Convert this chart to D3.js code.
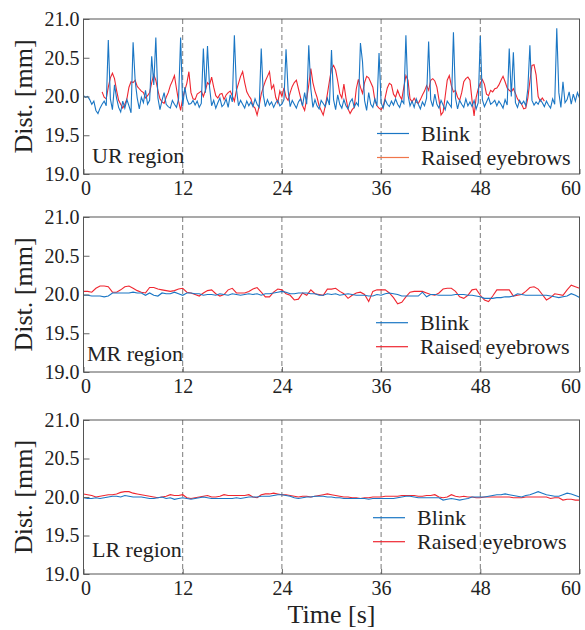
<!DOCTYPE html>
<html>
<head>
<meta charset="utf-8">
<script src="https://cdn.jsdelivr.net/npm/d3@7"></script>
<style>
  body { margin: 0; background: #fff; }
  text { font-family: "Liberation Serif", "DejaVu Serif", serif; fill: #222; }
</style>
</head>
<body>
<svg id="chart" width="585" height="630"></svg>
<script>
// tick labels + names
let timeTicks = [0, 12, 24, 36, 48, 60]
let distTicks = [19.0, 19.5, 20.0, 20.5, 21.0]
let gridTimes = [12, 24, 36, 48]
let seriesNames = ["Blink", "Raised eyebrows"]
let regionNames = ["UR region", "MR region", "LR region"]

// UR region, sampled every 0.25 s
let urBlink = [
  20.01, 19.99, 20.00, 19.96, 19.90, 19.94, 19.82, 19.78, 19.85, 19.90, 19.94, 19.88,
  20.73, 19.97, 19.83, 20.15, 19.98, 19.86, 19.80, 19.94, 19.85, 19.96, 19.88, 19.79,
  20.70, 20.20, 19.98, 19.84, 19.99, 19.92, 20.08, 19.90, 19.95, 20.52, 20.15, 20.76,
  19.98, 19.83, 19.95, 20.05, 19.90, 19.87, 19.85, 19.95, 19.90, 19.86, 19.97, 20.76,
  19.87, 20.12, 19.97, 19.90, 19.91, 19.95, 19.89, 19.94, 19.86, 19.91, 20.62, 20.05,
  20.65, 20.12, 19.88, 19.95, 19.85, 19.92, 19.98, 19.87, 19.90, 19.97, 19.86, 20.02,
  19.93, 20.79, 20.10, 19.88, 19.95, 19.90, 19.85, 19.94, 19.88, 19.93, 19.87, 19.97,
  19.90, 19.86, 20.62, 20.02, 19.87, 19.96, 19.89, 19.93, 19.86, 19.92, 19.95, 19.88,
  19.90, 19.96, 20.61, 20.08, 19.87, 19.95, 19.90, 19.85, 19.93, 19.97, 19.88, 20.05,
  19.90, 20.66, 20.10, 19.86, 19.96, 19.88, 19.84, 19.95, 19.91, 19.87, 19.98, 19.89,
  20.60, 19.96, 19.83, 20.02, 19.90, 19.85, 19.96, 19.88, 19.84, 19.93, 19.97, 19.86,
  19.92, 19.88, 20.69, 20.45, 19.95, 19.82, 20.05, 19.90, 19.86, 19.97, 19.88, 20.56,
  19.92, 19.85, 19.96, 19.90, 19.87, 19.94, 19.89, 19.97, 19.90, 19.86, 19.95, 19.91,
  20.79, 20.02, 19.88, 19.94, 19.86, 19.97, 19.90, 19.84, 19.93, 19.88, 19.98, 20.71,
  19.96, 19.87, 20.03, 19.90, 19.85, 19.95, 19.89, 19.83, 19.94, 19.90, 19.86, 20.83,
  19.98, 19.84, 19.95, 19.90, 19.86, 19.97, 19.88, 19.93, 19.87, 19.95, 19.84, 19.92,
  20.78, 19.96, 19.87, 19.93, 19.99, 19.90, 19.92, 19.95, 19.88, 19.94, 19.90, 19.85,
  19.96, 19.89, 20.62, 20.00, 20.57, 19.92, 19.86, 19.95, 19.90, 19.94, 19.88, 20.10,
  20.66, 19.95, 19.89, 19.93, 19.90, 19.96, 19.92, 19.87, 19.94, 19.89, 19.85, 19.97,
  19.90, 20.88, 20.05, 19.86, 20.19, 19.92, 19.96, 20.06, 19.90, 20.03, 19.94, 20.05,
  19.98
]
// starts at 2.25 s, every 0.25 s
let urRaised = [
  20.06, 19.99, 19.97, 20.12, 20.24, 20.30, 20.23, 20.08, 19.95, 19.90, 19.85, 19.90,
  19.97, 20.12, 20.19, 20.18, 20.21, 20.13, 20.10, 20.07, 20.05, 19.98, 20.01, 20.05,
  20.18, 20.28, 20.21, 20.08, 19.97, 19.93, 19.91, 19.99, 20.05, 20.14, 20.20, 20.27,
  20.10, 19.94, 19.82, 19.98, 20.08, 20.17, 20.32, 20.05, 19.97, 19.96, 20.03, 20.05,
  20.07, 20.00, 20.08, 20.18, 20.15, 20.25, 20.12, 20.01, 19.98, 20.03, 20.04, 19.96,
  20.02, 20.05, 20.07, 20.01, 19.94, 20.08, 20.17, 20.26, 20.32, 20.18, 20.06, 20.01,
  19.97, 19.88, 19.85, 19.76, 19.88, 20.03, 20.12, 20.20, 20.26, 20.32, 20.10, 20.15,
  19.99, 19.92, 20.07, 20.00, 20.11, 19.99, 19.95, 20.05, 20.13, 20.18, 20.21, 20.10,
  19.99, 19.88, 19.82, 19.97, 20.15, 20.36, 20.18, 20.07, 19.99, 19.88, 19.82, 19.76,
  19.88, 20.03, 20.20, 20.36, 20.40, 20.34, 20.20, 20.04, 19.98, 20.16, 19.98, 19.84,
  19.78, 19.83, 19.86, 20.10, 20.22, 20.12, 20.04, 20.18, 20.26, 20.24, 20.18, 20.12,
  19.95, 19.88, 19.85, 19.83, 19.87, 19.99, 20.11, 20.17, 20.15, 20.03, 19.99, 20.08,
  20.01, 19.96, 20.12, 20.27, 20.21, 19.97, 19.93, 19.98, 19.93, 19.91, 19.96, 20.02,
  20.07, 20.14, 20.08, 20.21, 20.23, 20.20, 20.12, 19.96, 19.76, 19.80, 20.00, 20.21,
  20.27, 20.14, 20.06, 20.08, 19.99, 19.95, 20.05, 20.19, 20.23, 20.25, 20.21, 19.95,
  19.75, 19.99, 20.10, 20.17, 20.22, 20.16, 20.03, 20.01, 20.08, 20.06, 20.10, 20.11,
  20.15, 20.21, 20.26, 20.19, 20.11, 20.08, 20.06, 20.10, 20.04, 19.97, 19.93, 19.90,
  19.84, 19.85, 19.98, 20.20, 20.40, 20.41, 20.28, 20.00, 19.94, 19.98, 19.94
]

// MR region, every 0.5 s
let mrBlink = [
  19.99, 19.99, 19.98, 19.98, 19.98, 19.97, 19.98, 20.02, 20.02, 20.02, 20.02, 20.02,
  20.03, 20.02, 20.02, 19.99, 20.02, 19.99, 19.98, 20.02, 20.01, 20.01, 20.03, 20.01,
  19.99, 20.02, 20.02, 20.01, 20.01, 19.99, 20.00, 20.00, 19.99, 20.01, 20.00, 19.99,
  20.01, 20.00, 19.99, 20.00, 20.01, 20.00, 20.01, 19.99, 20.01, 20.01, 20.02, 20.03,
  20.04, 20.03, 20.01, 20.01, 20.02, 20.02, 20.02, 20.01, 20.01, 19.99, 19.99, 20.01,
  20.00, 20.01, 19.99, 20.00, 20.01, 20.00, 19.99, 19.99, 19.99, 19.98, 19.98, 20.00,
  19.99, 20.01, 20.02, 20.01, 20.00, 19.98, 19.98, 19.98, 19.98, 19.98, 20.03, 19.97,
  20.00, 20.00, 19.99, 19.99, 19.99, 19.99, 20.00, 20.00, 20.00, 19.99, 19.99, 19.98,
  19.97, 19.95, 19.95, 19.95, 19.96, 19.96, 19.97, 19.97, 19.98, 20.01, 20.00, 19.99,
  19.99, 19.99, 19.99, 19.99, 19.99, 19.98, 19.97, 19.96, 19.97, 19.98, 20.01, 19.99,
  19.96
]
let mrRaised = [
  20.04, 20.04, 20.03, 20.08, 20.11, 20.11, 20.10, 20.03, 20.03, 20.06, 20.10, 20.11,
  20.08, 20.05, 20.03, 20.02, 20.09, 20.09, 20.07, 20.06, 20.05, 20.04, 20.05, 20.07,
  20.08, 20.03, 20.02, 20.00, 19.98, 20.02, 20.05, 20.06, 20.01, 19.98, 20.00, 20.06,
  20.08, 20.02, 20.02, 20.02, 20.04, 20.07, 20.09, 20.03, 19.97, 19.97, 20.03, 20.07,
  20.06, 20.01, 19.99, 19.93, 19.94, 20.02, 19.99, 20.06, 20.01, 20.00, 19.99, 20.07,
  20.07, 20.08, 20.04, 20.01, 19.95, 19.99, 20.02, 20.03, 20.00, 19.91, 20.04, 20.06,
  20.06, 20.06, 20.02, 19.96, 19.88, 19.90, 19.97, 20.03, 20.04, 20.04, 20.04, 20.02,
  20.00, 19.99, 20.02, 20.07, 20.08, 20.08, 20.04, 19.97, 19.95, 19.99, 20.06, 20.07,
  19.99, 19.93, 19.91, 19.98, 20.06, 20.06, 20.06, 20.06, 19.98, 19.99, 20.00, 20.04,
  20.09, 20.10, 20.07, 20.00, 19.93, 19.96, 20.01, 20.00, 19.99, 20.06, 20.12, 20.10,
  20.08
]

// LR region, every 0.5 s
let lrBlink = [
  19.99, 19.98, 19.98, 19.99, 19.98, 19.99, 20.00, 20.01, 20.01, 20.00, 20.02, 20.01,
  20.00, 20.00, 20.00, 19.99, 19.98, 19.98, 19.99, 20.00, 19.98, 19.99, 19.97, 19.98,
  19.99, 19.98, 19.97, 19.98, 19.99, 20.00, 19.99, 19.98, 19.98, 19.98, 19.98, 19.98,
  19.98, 19.99, 19.98, 19.99, 20.00, 20.00, 20.00, 20.01, 20.01, 20.01, 20.02, 20.03,
  20.03, 20.02, 20.01, 19.99, 19.98, 19.99, 20.00, 20.00, 20.01, 20.01, 20.01, 20.00,
  20.00, 19.99, 19.99, 19.98, 19.98, 19.98, 19.98, 19.98, 19.98, 19.97, 19.98, 19.98,
  19.98, 19.98, 19.98, 19.98, 19.99, 20.00, 20.01, 20.01, 20.00, 19.99, 19.99, 19.99,
  19.99, 19.99, 19.99, 19.96, 19.97, 19.98, 19.97, 19.96, 19.97, 19.98, 20.00, 20.00,
  20.00, 20.00, 20.01, 20.02, 20.03, 20.03, 20.04, 20.03, 20.02, 20.01, 20.00, 20.02,
  20.03, 20.05, 20.07, 20.05, 20.03, 20.02, 20.01, 20.01, 20.03, 20.05, 20.04, 20.02,
  20.00
]
let lrRaised = [
  20.04, 20.03, 20.02, 20.00, 20.01, 20.02, 20.03, 20.03, 20.04, 20.06, 20.07, 20.07,
  20.05, 20.04, 20.03, 20.02, 20.01, 20.00, 19.99, 20.00, 20.01, 20.03, 20.02, 20.02,
  20.03, 19.99, 19.98, 19.99, 20.00, 20.01, 20.02, 20.00, 20.00, 20.01, 20.03, 20.02,
  20.02, 20.02, 20.02, 20.02, 20.03, 20.00, 19.99, 20.03, 20.04, 20.04, 20.05, 20.04,
  20.03, 20.03, 20.02, 20.01, 20.00, 20.01, 20.01, 20.00, 20.01, 20.02, 20.03, 20.04,
  20.03, 20.02, 20.01, 20.00, 20.00, 19.99, 19.99, 19.98, 19.99, 19.99, 20.00, 20.00,
  20.00, 20.01, 20.01, 20.01, 20.01, 20.02, 20.02, 20.02, 20.02, 20.01, 20.01, 20.02,
  20.02, 20.03, 20.00, 19.99, 20.00, 20.03, 20.01, 20.00, 20.01, 20.00, 20.00, 19.99,
  19.99, 20.00, 20.00, 20.00, 20.00, 20.00, 20.00, 20.00, 19.99, 19.99, 19.99, 20.00,
  20.00, 20.00, 20.00, 20.00, 20.00, 19.98, 19.99, 19.99, 19.96, 19.97, 19.97, 19.96,
  19.96
]

let blue = "#1a76c4"
let red = "#ef2630"

let panels = [
  { name: regionNames[0], blink: urBlink, blinkStep: 0.25, raised: urRaised, raisedStart: 2.25, raisedStep: 0.25,
    top: 19, bottom: 174, legX: 377, legY: 133.5, labX: 92, labY: 163, legRaised: "#f0764a" },
  { name: regionNames[1], blink: mrBlink, blinkStep: 0.5, raised: mrRaised, raisedStart: 0, raisedStep: 0.5,
    top: 217, bottom: 372, legX: 376, legY: 322.7, labX: 87, labY: 361, legRaised: red },
  { name: regionNames[2], blink: lrBlink, blinkStep: 0.5, raised: lrRaised, raisedStart: 0, raisedStep: 0.5,
    top: 420, bottom: 574, legX: 373, legY: 517.7, labX: 92, labY: 557, legRaised: red }
]

let svg = d3.select("#chart")
let left = 83.5, right = 579.5

let xScale = d3.scaleLinear().domain([0, 60]).range([left, right])

let toPoints = (values, start, step) => values.map((v, i) => [start + i * step, v])

panels.forEach((p) => {
  let yScale = d3.scaleLinear().domain([19, 21]).range([p.bottom, p.top])
  let g = svg.append("g")

  // dashed verticals
  g.selectAll("line.grid")
    .data(gridTimes)
    .enter()
    .append("line")
    .attr("x1", d => xScale(d)).attr("x2", d => xScale(d))
    .attr("y1", p.top).attr("y2", p.bottom)
    .attr("stroke", "#7a7a7a")
    .attr("stroke-width", 1)
    .attr("stroke-dasharray", "5,3")

  let line = d3.line().x(d => xScale(d[0])).y(d => yScale(d[1]))

  g.append("path")
    .attr("d", line(toPoints(p.raised, p.raisedStart, p.raisedStep)))
    .attr("fill", "none").attr("stroke", red).attr("stroke-width", 1.1)
  g.append("path")
    .attr("d", line(toPoints(p.blink, 0, p.blinkStep)))
    .attr("fill", "none").attr("stroke", blue).attr("stroke-width", 1.1)

  // axes
  let yAxis = d3.axisLeft(yScale).tickValues(distTicks).tickFormat(d3.format(".1f"))
    .tickSize(-6).tickPadding(4)
  let ya = g.append("g").attr("transform", `translate(${left},0)`).call(yAxis)
  ya.select(".domain").remove()
  ya.selectAll("line").attr("stroke", "#666")
  ya.selectAll("text").attr("font-size", 20).attr("fill", "#222")
    .attr("font-family", "Liberation Serif, DejaVu Serif, serif")

  let xAxis = d3.axisBottom(xScale).tickValues(timeTicks).tickFormat(d3.format("d"))
    .tickSize(-5).tickPadding(7)
  let xa = g.append("g").attr("transform", `translate(0,${p.bottom})`).call(xAxis)
  xa.select(".domain").remove()
  xa.selectAll("line").attr("stroke", "#666")
  xa.selectAll("text").attr("font-size", 20).attr("fill", "#222")
    .attr("font-family", "Liberation Serif, DejaVu Serif, serif")
    .attr("x", d => d === 0 ? 2 : (d === 60 ? -9 : 0))

  // frame
  g.append("rect")
    .attr("x", left).attr("y", p.top)
    .attr("width", right - left).attr("height", p.bottom - p.top)
    .attr("fill", "none").attr("stroke", "#555").attr("stroke-width", 1)

  // region label
  g.append("text")
    .attr("x", p.labX).attr("y", p.labY)
    .attr("font-size", 22)
    .text(p.name)

  // legend
  let legColors = [blue, p.legRaised]
  seriesNames.forEach((s, i) => {
    let ly = p.legY + i * 24
    g.append("line")
      .attr("x1", p.legX).attr("x2", p.legX + 32)
      .attr("y1", ly).attr("y2", ly)
      .attr("stroke", legColors[i]).attr("stroke-width", 1.2)
    g.append("text")
      .attr("x", p.legX + 44).attr("y", ly + 7.5)
      .attr("font-size", 22)
      .text(s)
  })

  // y label
  g.append("text")
    .attr("transform", `translate(32,${(p.top + p.bottom) / 2}) rotate(-90)`)
    .attr("text-anchor", "middle")
    .attr("font-size", 26)
    .text("Dist. [mm]")
})

svg.append("text")
  .attr("x", (left + right) / 2).attr("y", 623)
  .attr("text-anchor", "middle")
  .attr("font-size", 26)
  .text("Time [s]")
</script>
</body>
</html>
